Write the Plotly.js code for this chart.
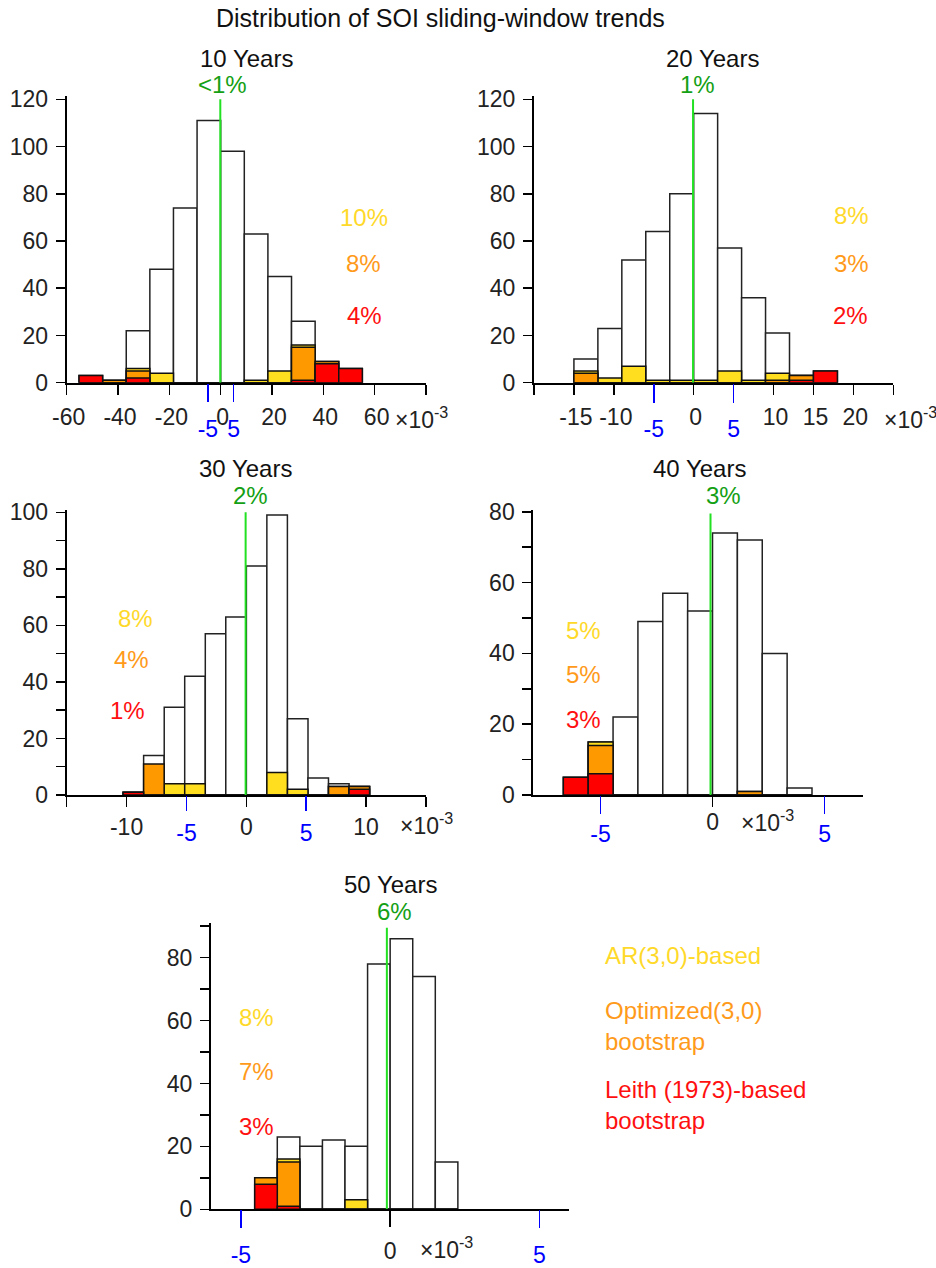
<!DOCTYPE html>
<html>
<head>
<meta charset="utf-8">
<script src="https://cdn.plot.ly/plotly-3.0.1.min.js"></script>
<style>html,body{margin:0;padding:0;background:#fff;}#chart{width:936px;height:1268px;}</style>
</head>
<body>
<div id="chart"></div>
<script>
// ---------------- data ----------------
const panelTitles = ['10 Years', '20 Years', '30 Years', '40 Years', '50 Years'];

// 10-year windows (trend, x 10^-3 per year)
const bins10  = [-50.6, -41.4, -32.2, -23.0, -13.8, -4.6, 4.6, 13.8, 23.0, 32.2, 41.4, 50.6];
const total10 = [3, 1, 22, 48, 74, 111, 98, 63, 45, 26, 9, 6];
const ar10    = [0, 0, 6, 4, 0, 0, 0, 1, 5, 16, 0, 0];
const opt10   = [0, 1, 5, 0, 0, 0, 0, 0, 0, 15, 9, 0];
const leith10 = [3, 0, 2, 0, 0, 0, 0, 0, 0, 1, 8, 6];

// 20-year windows
const bins20  = [-13.5, -10.5, -7.5, -4.5, -1.5, 1.5, 4.5, 7.5, 10.5, 13.5, 16.5];
const total20 = [10, 23, 52, 64, 80, 114, 57, 36, 21, 3, 5];
const ar20    = [5, 2, 7, 1, 1, 1, 5, 1, 4, 3, 0];
const opt20   = [4, 0, 0, 0, 0, 0, 0, 0, 1, 3, 0];
const leith20 = [0, 0, 0, 0, 0, 0, 0, 0, 0, 1, 5];

// 30-year windows
const bins30  = [-9.43, -7.72, -6.0, -4.29, -2.57, -0.86, 0.86, 2.57, 4.29, 6.0, 7.72, 9.43];
const total30 = [1, 14, 31, 42, 57, 63, 81, 99, 27, 6, 4, 3];
const ar30    = [0, 0, 4, 4, 0, 0, 0, 8, 2, 0, 3, 3];
const opt30   = [1, 11, 0, 0, 0, 0, 0, 0, 0, 0, 3, 3];
const leith30 = [1, 0, 0, 0, 0, 0, 0, 0, 0, 0, 0, 2];

// 40-year windows
const bins40  = [-6.105, -4.995, -3.885, -2.775, -1.665, -0.555, 0.555, 1.665, 2.775, 3.885];
const total40 = [5, 15, 22, 49, 57, 52, 74, 72, 40, 2];
const ar40    = [0, 15, 0, 0, 0, 0, 0, 1, 0, 0];
const opt40   = [0, 14, 0, 0, 0, 0, 0, 1, 0, 0];
const leith40 = [5, 6, 0, 0, 0, 0, 0, 0, 0, 0];

// 50-year windows
const bins50  = [-4.158, -3.402, -2.646, -1.89, -1.134, -0.378, 0.378, 1.134, 1.89];
const total50 = [10, 23, 20, 22, 20, 78, 86, 74, 15];
const ar50    = [0, 16, 0, 0, 3, 0, 0, 0, 0];
const opt50   = [10, 15, 0, 0, 0, 0, 0, 0, 0];
const leith50 = [8, 1, 0, 0, 0, 0, 0, 0, 0];

// observed trend (green line) and percentages
const obsTrend = [-0.15, -0.08, -0.06, -0.09, -0.11];
const pctObs   = ['<1%', '1%', '2%', '3%', '6%'];
const pctAR    = ['10%', '8%', '8%', '5%', '8%'];
const pctOpt   = ['8%', '3%', '4%', '5%', '7%'];
const pctLeith = ['4%', '2%', '1%', '3%', '3%'];

// axis ticks
const xTickVals = [
  [-60, -40, -20, 0, 20, 40, 60],
  [-15, -10, 0, 10, 15, 20],
  [-10, 0, 10],
  [0],
  [0]
];
const xTickText = [
  ['-60', '-40', '-20', '0', '20', '40', '60'],
  ['-15', '-10', '0', '10', '15', '20'],
  ['-10', '0', '10'],
  ['0'],
  ['0']
];
const xBareTicks = [[80], [-20, 25], [-15, 15], [], []];
const blueTickVals = [-5, 5];
const blueTickText = ['-5', '5'];
const legendLabels = ['AR(3,0)-based', 'Optimized(3,0)<br>bootstrap', 'Leith (1973)-based<br>bootstrap'];
const scaleLabel = '×10<sup>-3</sup>';

// ---------------- layout geometry / style ----------------
const W = 936, H = 1268;
const fx = p => p / W;
const fy = p => 1 - p / H;
const FONT = 'Liberation Sans, Arial, Helvetica, sans-serif';
const C_YEL = '#FFDD1F', C_ORG = '#FF9900', C_RED = '#FF0000';
const T_YEL = '#FFD92A', T_ORG = '#FF9A1A', T_RED = '#FF1010';
const C_GRN = '#22E022', T_GRN = '#14A014', C_BLUE = '#0000FF';

const series = [
  {bins: bins10, tot: total10, ar: ar10, opt: opt10, le: leith10},
  {bins: bins20, tot: total20, ar: ar20, opt: opt20, le: leith20},
  {bins: bins30, tot: total30, ar: ar30, opt: opt30, le: leith30},
  {bins: bins40, tot: total40, ar: ar40, opt: opt40, le: leith40},
  {bins: bins50, tot: total50, ar: ar50, opt: opt50, le: leith50}
];

const panels = [
  {px: [66.7, 426], py: [382.7, 96], xr: [-60, 80], yr: [0, 121.4], ytop: 120, dtick: 20, minor: false, bw: 9.2,
   blen: 10, bstand: 3, bshift: 2, blueLen: 18, blueStand: 8,
   title: [246.7, 58], obs: [222, 84.3], pct: [[364, 217], [363.3, 263.5], [364, 315]], scale: [393.3, 401]},
  {px: [534, 893.3], py: [382.7, 96], xr: [-20, 25], yr: [0, 121.4], ytop: 120, dtick: 20, minor: false, bw: 3,
   blen: 10, bstand: 3, bshift: 2, blueLen: 19, blueStand: 7,
   title: [712.5, 58], obs: [697.5, 84.3], pct: [[851.7, 215], [851.7, 263.5], [850, 315]], scale: [881.7, 401]},
  {px: [66.7, 426], py: [795, 510], xr: [-15, 15], yr: [0, 100.8], ytop: 100, dtick: 20, minor: true, bw: 1.715,
   blen: 10, bstand: 0, bshift: 0, blueLen: 15, blueStand: 2,
   title: [245.7, 469], obs: [250, 495.3], pct: [[135.8, 618], [131.7, 659], [127.8, 710.5]], scale: [398, 807]},
  {px: [533.3, 863.3], py: [795, 510], xr: [-8, 6.73], yr: [0, 80.5], ytop: 79.5, dtick: 20, minor: true, bw: 1.11,
   blen: 10, bstand: -5, bshift: 0, blueLen: 18, blueStand: 0,
   title: [699, 469], obs: [723.7, 495.3], pct: [[583, 630.8], [583, 674], [583, 719]], scale: [739, 804]},
  {px: [211, 569.3], py: [1209.3, 923.3], xr: [-6, 6], yr: [0, 90.9], ytop: 89.5, dtick: 20, minor: true, bw: 0.756,
   blen: 16, bstand: 4, bshift: 0, blueLen: 18, blueStand: 7,
   title: [390, 884], obs: [394.3, 911.7], pct: [[256.3, 1017], [256.3, 1071], [256.3, 1126]], scale: [418, 1231]}
];

const traces = [];
const layout = {
  width: W, height: H,
  margin: {l: 0, r: 0, t: 0, b: 0},
  paper_bgcolor: '#fff', plot_bgcolor: 'rgba(0,0,0,0)',
  showlegend: false, barmode: 'overlay',
  font: {family: FONT, size: 23, color: '#222'},
  annotations: [], shapes: []
};

function ann(x, y, text, color, size, xanchor, yanchor, align) {
  layout.annotations.push({
    xref: 'paper', yref: 'paper', x: fx(x), y: fy(y), text: text, showarrow: false,
    xanchor: xanchor || 'center', yanchor: yanchor || 'middle', align: align || 'center',
    font: {family: FONT, size: size || 24, color: color}
  });
}

panels.forEach((p, i) => {
  const n = i + 1;
  const xa = n === 1 ? 'x' : 'x' + n;
  const ya = n === 1 ? 'y' : 'y' + n;
  const xk = n === 1 ? 'xaxis' : 'xaxis' + n;
  const yk = n === 1 ? 'yaxis' : 'yaxis' + n;
  const bx = 'x' + (n + 5), bk = 'xaxis' + (n + 5);
  const s = series[i];

  const mk = (vals, fill, lw, lc) => ({
    type: 'bar', x: s.bins, y: vals, width: p.bw, xaxis: xa, yaxis: ya,
    marker: {color: fill, opacity: 1, line: {color: lc, width: lw}},
    hoverinfo: 'skip', cliponaxis: false
  });
  traces.push(mk(s.tot, '#FFFFFF', 1.5, '#222'));
  traces.push(mk(s.ar, C_YEL, 1.5, '#111'));
  traces.push(mk(s.opt, C_ORG, 1.5, '#111'));
  traces.push(mk(s.le, C_RED, 1.5, '#111'));
  traces.push({
    type: 'scatter', mode: 'lines', x: [obsTrend[i], obsTrend[i]], y: [0, p.ytop],
    xaxis: xa, yaxis: ya, line: {color: C_GRN, width: 2}, hoverinfo: 'skip', cliponaxis: false
  });
  // invisible carrier so the blue overlay axis is drawn
  traces.push({
    type: 'scatter', mode: 'markers', x: blueTickVals, y: [0, 0],
    xaxis: bx, yaxis: ya, marker: {opacity: 0, size: 1}, hoverinfo: 'skip'
  });

  const xax = {
    domain: [fx(p.px[0]), fx(p.px[1])], anchor: ya, range: p.xr,
    tickmode: 'array', tickvals: xTickVals[i], ticktext: xTickText[i],
    ticks: 'outside', ticklen: p.blen, tickwidth: 1.5, tickcolor: '#000',
    ticklabelstandoff: p.bstand, ticklabelshift: p.bshift,
    tickfont: {family: FONT, size: 23, color: '#222'},
    showline: true, linewidth: 2, linecolor: '#000',
    showgrid: false, zeroline: false, fixedrange: true
  };
  if (xBareTicks[i].length) {
    xax.minor = {tickmode: 'array', tickvals: xBareTicks[i], ticks: 'outside', ticklen: 10, tickwidth: 1.5, tickcolor: '#000', showgrid: false};
  }
  layout[xk] = xax;
  layout[bk] = {
    overlaying: xa, anchor: ya, side: 'bottom', range: p.xr,
    tickmode: 'array', tickvals: blueTickVals, ticktext: blueTickText,
    ticks: 'outside', ticklen: p.blueLen, tickwidth: 1.5, tickcolor: C_BLUE,
    ticklabelstandoff: p.blueStand,
    tickfont: {family: FONT, size: 23, color: C_BLUE},
    showline: false, showgrid: false, zeroline: false, fixedrange: true
  };
  const yax = {
    domain: [fy(p.py[0]), fy(p.py[1])], anchor: xa, range: p.yr,
    tick0: 0, dtick: p.dtick,
    ticks: 'outside', ticklen: 9, tickwidth: 1.5, tickcolor: '#000',
    ticklabelstandoff: 3,
    tickfont: {family: FONT, size: 23, color: '#222'},
    showline: true, linewidth: 2, linecolor: '#000',
    showgrid: false, zeroline: false, fixedrange: true
  };
  if (p.minor) yax.minor = {tick0: 0, dtick: 10, ticks: 'outside', ticklen: 9, tickwidth: 1.5, tickcolor: '#000', showgrid: false};
  layout[yk] = yax;

  // texts
  ann(p.title[0], p.title[1], panelTitles[i], '#111', 24);
  ann(p.obs[0], p.obs[1], pctObs[i], T_GRN, 24);
  ann(p.pct[0][0], p.pct[0][1], pctAR[i], T_YEL, 24);
  ann(p.pct[1][0], p.pct[1][1], pctOpt[i], T_ORG, 24);
  ann(p.pct[2][0], p.pct[2][1], pctLeith[i], T_RED, 24);
  ann(p.scale[0], p.scale[1], scaleLabel, '#222', 23, 'left', 'top', 'left');
});

ann(440, 18, 'Distribution of SOI sliding-window trends', '#111', 25);
ann(603, 955, legendLabels[0], T_YEL, 24, 'left', 'middle', 'left');
ann(603, 1025.5, legendLabels[1], T_ORG, 24, 'left', 'middle', 'left');
ann(603, 1104.5, legendLabels[2], T_RED, 24, 'left', 'middle', 'left');

Plotly.newPlot('chart', traces, layout, {staticPlot: true, displayModeBar: false});
</script>
</body>
</html>
